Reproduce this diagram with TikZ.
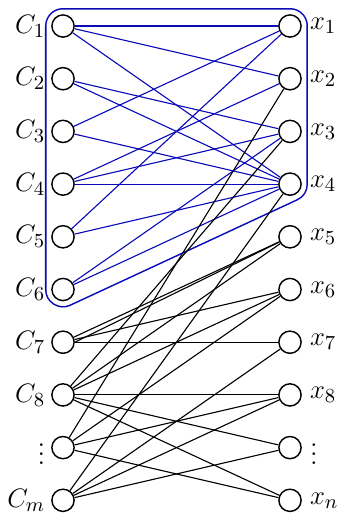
\documentclass[tikz,border=0pt]{standalone}
\usetikzlibrary{backgrounds}
\definecolor{hullblue}{RGB}{10,10,185}
\begin{document}
\begin{tikzpicture}[x=0.45pt,y=-0.45pt,
  vert/.style={circle,draw,line width=0.65pt,fill=white,minimum size=10pt,inner sep=0pt},
  bedge/.style={hullblue,line width=0.5pt},
  kedge/.style={black,line width=0.5pt},
  lab/.style={font=\fontsize{12.5}{14}\selectfont,inner sep=2.5pt}]
\useasboundingbox (0,0) rectangle (340,513);
% left column
\node[vert,label={[lab]left:$C_1$}] (c1) at (63,26) {};
\node[vert,label={[lab]left:$C_2$}] (c2) at (63,78.7) {};
\node[vert,label={[lab]left:$C_3$}] (c3) at (63,131.4) {};
\node[vert,label={[lab]left:$C_4$}] (c4) at (63,184.1) {};
\node[vert,label={[lab]left:$C_5$}] (c5) at (63,236.8) {};
\node[vert,label={[lab]left:$C_6$}] (c6) at (63,289.5) {};
\node[vert,label={[lab]left:$C_7$}] (c7) at (63,342.2) {};
\node[vert,label={[lab]left:$C_8$}] (c8) at (63,394.9) {};
\node[vert,label={[lab]left:$\vdots$}] (c9) at (63,447.6) {};
\node[vert,label={[lab]left:$C_m$}] (cm) at (63,500.3) {};
% right column
\node[vert,label={[lab,label distance=1pt]right:$x_1$}] (r1) at (290,26) {};
\node[vert,label={[lab,label distance=1pt]right:$x_2$}] (r2) at (290,78.7) {};
\node[vert,label={[lab,label distance=1pt]right:$x_3$}] (r3) at (290,131.4) {};
\node[vert,label={[lab,label distance=1pt]right:$x_4$}] (r4) at (290,184.1) {};
\node[vert,label={[lab,label distance=1pt]right:$x_5$}] (r5) at (290,236.8) {};
\node[vert,label={[lab,label distance=1pt]right:$x_6$}] (r6) at (290,289.5) {};
\node[vert,label={[lab,label distance=1pt]right:$x_7$}] (r7) at (290,342.2) {};
\node[vert,label={[lab,label distance=1pt]right:$x_8$}] (r8) at (290,394.9) {};
\node[vert,label={[lab,label distance=1pt]right:$\vdots$}] (r9) at (290,447.6) {};
\node[vert,label={[lab,label distance=1pt]right:$x_n$}] (rn) at (290,500.3) {};
% hull and edges behind the nodes
\begin{scope}[on background layer]
\draw[hullblue,line width=16.2pt,line join=round] (c1.center) -- (r1.center) -- (r4.center) -- (c6.center) -- cycle;
\draw[white,fill=white,line width=14.8pt,line join=round] (c1.center) -- (r1.center) -- (r4.center) -- (c6.center) -- cycle;
% blue edges
\draw[bedge] (c1) -- (r1);
\draw[bedge] (c1) -- (r2);
\draw[bedge] (c1) -- (r4);
\draw[bedge] (c2) -- (r3);
\draw[bedge] (c2) -- (r4);
\draw[bedge] (c3) -- (r1);
\draw[bedge] (c3) -- (r4);
\draw[bedge] (c4) -- (r2);
\draw[bedge] (c4) -- (r3);
\draw[bedge] (c4) -- (r4);
\draw[bedge] (c5) -- (r1);
\draw[bedge] (c5) -- (r4);
\draw[bedge] (c6) -- (r3);
\draw[bedge] (c6) -- (r4);
% black edges
\draw[kedge] (c7) -- (r5);
\draw[kedge] (c7.east) -- (r5);
\draw[kedge] (c7) -- (r6);
\draw[kedge] (c7) -- (r7);
\draw[kedge] (c8) -- (r3);
\draw[kedge] (c8) -- (r5);
\draw[kedge] (c8) -- (r6);
\draw[kedge] (c8) -- (r8);
\draw[kedge] (c8) -- (r9);
\draw[kedge] (c8) -- (rn);
\draw[kedge] (c9) -- (r2);
\draw[kedge] (c9) -- (r6);
\draw[kedge] (c9) -- (r8);
\draw[kedge] (c9) -- (rn);
\draw[kedge] (cm) -- (r4);
\draw[kedge] (cm) -- (r7);
\draw[kedge] (cm) -- (r8);
\draw[kedge] (cm) -- (r9);
\end{scope}
\end{tikzpicture}
\end{document}
